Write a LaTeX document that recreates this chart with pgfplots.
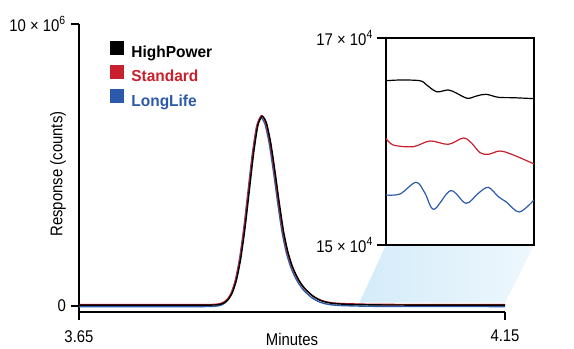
\documentclass[border=0pt]{standalone}
\usepackage{pgfplots}
\pgfplotsset{compat=1.18}
\usepackage{pgfplotstable}
\usepackage{fontspec}
\setmainfont{Liberation Sans}[FakeStretch=0.88]
\newfontfamily\legfont{Liberation Sans}[FakeStretch=0.97]
\usetikzlibrary{backgrounds}
\definecolor{cred}{RGB}{200,32,44}
\definecolor{cblue}{RGB}{44,90,170}
\definecolor{shadeL}{RGB}{212,236,249}
\definecolor{shadeR}{RGB}{238,247,253}

\pgfplotstableread{
x y
3.650 0.03
3.790 0.03
3.800 0.031
3.805 0.032
3.810 0.038
3.815 0.056
3.820 0.105
3.825 0.223
3.830 0.473
3.835 0.942
3.840 1.711
3.845 2.801
3.850 4.118
3.855 5.427
3.860 6.406
3.865 6.73
3.870 6.49
3.875 5.79
3.880 4.78
3.885 3.67
3.890 2.66
3.895 1.94
3.900 1.44
3.905 1.09
3.910 0.82
3.915 0.62
3.920 0.47
3.925 0.34
3.930 0.25
3.935 0.18
3.940 0.135
3.945 0.105
3.950 0.085
3.960 0.065
3.980 0.048
4.000 0.038
4.050 0.032
4.150 0.03
}\highpower

\pgfplotstableread{
x y
3.6500 0.05
3.7892 0.05
3.7992 0.051
3.8042 0.052
3.8092 0.058
3.8142 0.076
3.8192 0.125
3.8242 0.243
3.8292 0.493
3.8342 0.962
3.8392 1.731
3.8442 2.821
3.8492 4.138
3.8542 5.447
3.8592 6.426
3.8642 6.75
3.8692 6.51
3.8742 5.81
3.8792 4.80
3.8842 3.69
3.8892 2.68
3.8942 1.96
3.8992 1.46
3.9042 1.11
3.9092 0.84
3.9142 0.64
3.9192 0.49
3.9242 0.36
3.9292 0.27
3.9342 0.20
3.9392 0.155
3.9442 0.125
3.9492 0.105
3.9592 0.085
3.9792 0.068
3.9992 0.058
4.0492 0.052
4.1500 0.05
}\standard

\pgfplotstableread{
x y
3.6500 -0.02
3.7884 -0.02
3.7984 -0.019
3.8034 -0.018
3.8084 -0.012
3.8134 0.006
3.8184 0.055
3.8234 0.173
3.8284 0.423
3.8334 0.892
3.8384 1.661
3.8434 2.751
3.8484 4.068
3.8534 5.377
3.8584 6.356
3.8634 6.68
3.8684 6.44
3.8734 5.74
3.8784 4.73
3.8834 3.62
3.8884 2.61
3.8934 1.89
3.8984 1.39
3.9034 1.04
3.9084 0.77
3.9134 0.57
3.9184 0.42
3.9234 0.29
3.9284 0.20
3.9334 0.13
3.9384 0.085
3.9434 0.055
3.9484 0.035
3.9584 0.015
3.9784 -0.002
3.9984 -0.012
4.0484 -0.018
4.1500 -0.02
}\longlife

\pgfplotstableread{
x y
3.9800 16.587
3.9961 16.594
4.0191 16.587
4.0267 16.546
4.0382 16.481
4.0516 16.498
4.0612 16.466
4.0734 16.417
4.0842 16.440
4.0949 16.456
4.1090 16.427
4.1262 16.423
4.1500 16.414
}\insetblack

\pgfplotstableread{
x y
3.9800 16.031
3.9884 15.966
4.0114 15.950
4.0305 16.005
4.0516 15.973
4.0688 16.034
4.0784 15.983
4.0880 15.892
4.0975 15.876
4.1109 15.908
4.1262 15.870
4.1500 15.783
}\insetred

\pgfplotstableread{
x y
3.9800 15.483
3.9961 15.493
4.0145 15.606
4.0248 15.500
4.0351 15.345
4.0543 15.525
4.0719 15.403
4.0860 15.500
4.0975 15.557
4.1090 15.467
4.1186 15.413
4.1331 15.319
4.1500 15.435
}\insetblue

\begin{document}
\begin{tikzpicture}
\path[use as bounding box] (0,0) rectangle (574bp,349bp);
\begin{axis}[
  at={(79bp,37bp)}, anchor=south west, scale only axis,
  width=426bp, height=288bp,
  xmin=3.65, xmax=4.15, ymin=-0.213, ymax=10,
  axis x line*=bottom, axis y line*=left,
  hide obscured x ticks=false, hide obscured y ticks=false,
  axis line style={line width=1.2bp, -},
  xtick={3.65,4.15}, xticklabels={3.65,4.15},
  ytick={0,10}, yticklabels={0,10 × 10\textsuperscript{6}},
  xtick pos=bottom, ytick pos=left,
  tick align=outside, major tick length=8bp,
  major tick style={line width=1.2bp, black},
  tick label style={font=\fontsize{17}{19}\selectfont, inner sep=0pt},
  xticklabel style={anchor=north, yshift=-10bp},
  yticklabel style={anchor=east, xshift=-5bp},
  xlabel={Minutes}, ylabel={Response (counts)},
  label style={font=\fontsize{17}{19}\selectfont, inner sep=0pt},
  xlabel style={at={(rel axis cs:0.5,0)}, anchor=north, yshift=-21bp},
  ylabel style={at={(rel axis cs:0,0.479)}, anchor=center, yshift=21bp},
  legend image code/.code={\fill[#1] (0bp,-0.5bp) rectangle (13bp,12.5bp);},
  legend style={at={(rel axis cs:0.0728,0.941)}, anchor=north west,
    draw=none, fill=none, inner sep=0pt, outer sep=0pt, row sep=3.5bp,
    font=\legfont\bfseries\fontsize{16}{18}\selectfont,
    nodes={inner sep=0pt, text height=12bp, text depth=4bp},
    /tikz/every odd column/.append style={column sep=8bp}},
  legend cell align=left,
  clip=false,
]
\addlegendimage{black}
\addlegendimage{cred}
\addlegendimage{cblue}
\addplot[cblue, line width=1.4bp, smooth, tension=0.4, forget plot] table {\longlife};
\addplot[cred, line width=1.4bp, smooth, tension=0.4, forget plot] table {\standard};
\addplot[black, line width=1.4bp, smooth, tension=0.4, forget plot] table {\highpower};
\legend{\textcolor{black}{HighPower},\textcolor{cred}{Standard},\textcolor{cblue}{LongLife}}
\coordinate (A) at (axis cs:3.979,0.117);
\coordinate (B) at (axis cs:4.15,0.117);
\end{axis}
\begin{axis}[
  at={(386bp,104bp)}, anchor=south west, scale only axis,
  width=148bp, height=207bp,
  xmin=3.98, xmax=4.15, ymin=15, ymax=17,
  xtick=\empty, ytick={15,17},
  yticklabels={15 × 10\textsuperscript{4},17 × 10\textsuperscript{4}},
  ytick pos=left, tick align=outside, major tick length=9bp,
  axis line style={line width=1.6bp},
  major tick style={line width=1.2bp, black},
  tick label style={font=\fontsize{17}{19}\selectfont, inner sep=0pt},
  yticklabel style={anchor=east, xshift=-4bp},
]
\addplot[black, line width=1.2bp, smooth, tension=0.55] table {\insetblack};
\addplot[cred, line width=1.2bp, smooth, tension=0.55] table {\insetred};
\addplot[cblue, line width=1.2bp, smooth, tension=0.55] table {\insetblue};
\coordinate (C) at (rel axis cs:0,0);
\coordinate (D) at (rel axis cs:1,0);
\end{axis}
\begin{scope}[on background layer]
\shade[left color=shadeL, right color=shadeR] (A) -- (B) -- (D) -- (C) -- cycle;
\end{scope}
\end{tikzpicture}
\end{document}
